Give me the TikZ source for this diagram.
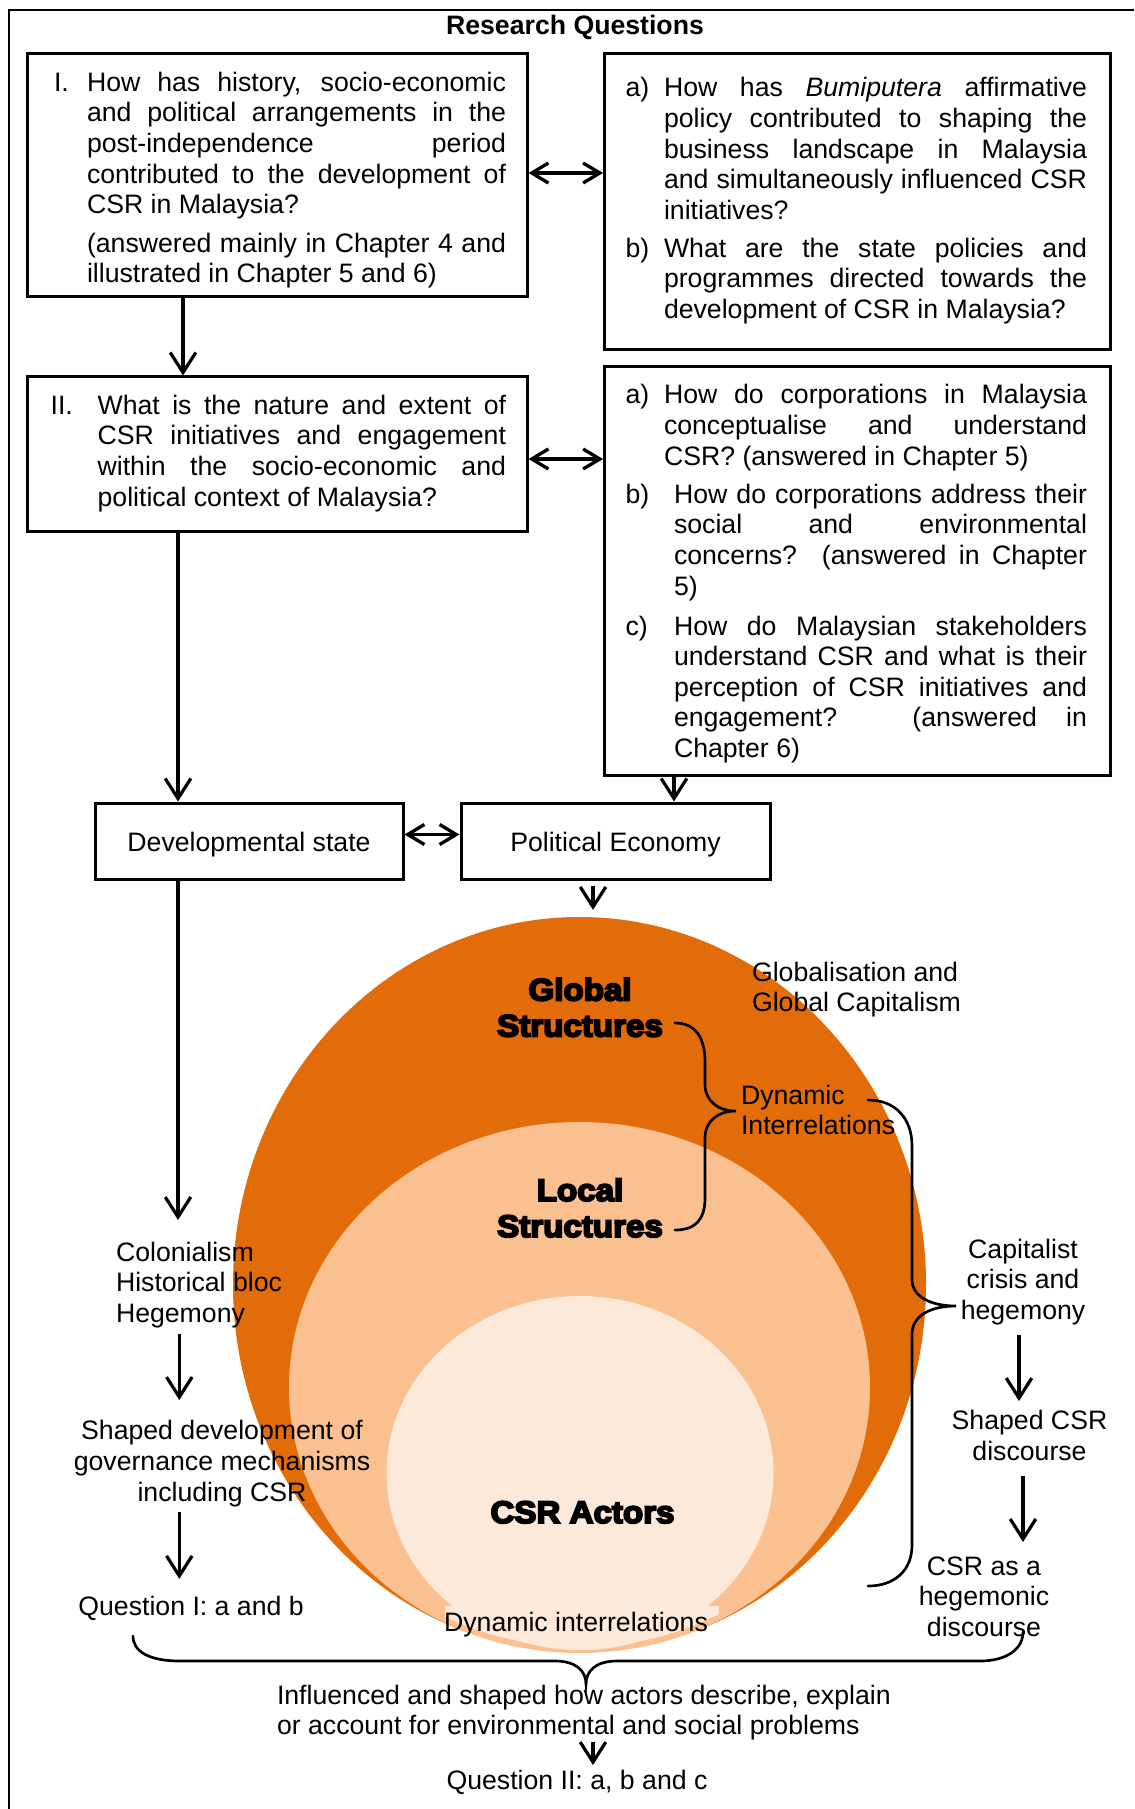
\documentclass[tikz,border=0pt]{standalone}
\usepackage{fontspec}
\setmainfont{Liberation Sans}
\newfontfamily\heavyfont[FakeBold=6,FakeStretch=1.065]{Liberation Sans Bold}
\usetikzlibrary{arrows.meta,shapes.geometric}
\definecolor{dorange}{RGB}{227,108,10}
\definecolor{morange}{RGB}{250,192,144}
\definecolor{lorange}{RGB}{253,233,217}
\newcommand{\firstln}{\rule{0pt}{10pt}}
\newcommand{\firsthv}{\rule{0pt}{12pt}}
\newcommand{\lastln}{\rule[-3pt]{0pt}{3pt}}
\newcommand{\jA}[1]{\makebox[188.55pt][s]{#1}}
\newcommand{\jB}[1]{\makebox[190.35pt][s]{#1}}
\newcommand{\jC}[1]{\makebox[183.8pt][s]{#1}}
\newcommand{\jD}[1]{\makebox[185.85pt][s]{#1}}
\begin{document}
\begin{tikzpicture}[x=0.45pt,y=-0.45pt,
  box/.style={draw, line width=1.35pt, rectangle, inner sep=0pt, font=\fontsize{12pt}{13.77pt}\selectfont, text height=11pt, text depth=1.6pt},
  txt/.style={inner sep=0pt, outer sep=0pt, align=left, font=\fontsize{12pt}{13.77pt}\selectfont},
  ctxt/.style={txt, align=center},
  heavy/.style={inner sep=0pt, outer sep=0pt, align=center, font=\heavyfont\fontsize{14pt}{16.2pt}\selectfont},
  arr/.style={line width=1.45pt, -{Straight Barb[length=9pt,width=11.5pt]}},
  darr/.style={line width=1.5pt, {Straight Barb[length=7.5pt,width=9pt]}-{Straight Barb[length=7.5pt,width=9pt]}},
  brace/.style={line width=1.2pt, line cap=round}]
\useasboundingbox (0,0) rectangle (1134,1809);
% frame
\draw[line width=0.9pt] (9.3,1809) -- (9.3,10.5) -- (1134,10.5);
\node[txt, anchor=base, font=\fontsize{12pt}{13.77pt}\selectfont\bfseries] (title) at (575,34.8) {Research Questions};

% ---------- boxes
\node[box, minimum width=224.55pt, minimum height=109.35pt] (b1) at (277.5,175.5) {};
\node[box, minimum width=227.475pt, minimum height=132.75pt] (r1) at (857.25,201.5) {};
\node[box, minimum width=224.55pt, minimum height=69.3pt] (b2) at (277.5,454) {};
\node[box, minimum width=227.475pt, minimum height=183.6pt] (r2) at (857.25,571) {};
\node[box, minimum width=138.6pt, minimum height=34.2pt] (dev) at (249,841) {Developmental state};
\node[box, minimum width=139.05pt, minimum height=34.2pt] (pe) at (615.5,841) {Political Economy};

% ---------- box texts
\node[txt, anchor=base west] (l1) at (54,91.3) {I.};
\node[txt, anchor=north west] (q1text) at (87,91.3-22.22) {\firstln\jA{How has history, socio-economic}\\
\jA{and political arrangements in the}\\
\jA{post-independence period}\\
\jA{contributed to the development of}\\
CSR in Malaysia?\\[3.6pt]
\jA{(answered mainly in Chapter 4 and}\\
illustrated in Chapter 5 and 6)\lastln};

\node[txt, anchor=base west] (la1) at (625.6,97) {a)};
\node[txt, anchor=base west] (lb1) at (625.6,257.3) {b)};
\node[txt, anchor=north west] (r1text) at (664,97-22.22) {\firstln\jB{How has \textit{Bumiputera} affirmative}\\
\jB{policy contributed to shaping the}\\
\jB{business landscape in Malaysia}\\
\jB{and simultaneously influenced CSR}\\
initiatives?\\[3.3pt]
\jB{What are the state policies and}\\
\jB{programmes directed towards the}\\
development of CSR in Malaysia?\lastln};

\node[txt, anchor=base west] (l2) at (50.6,414.3) {II.};
\node[txt, anchor=north west] (q2text) at (97.6,414.3-22.22) {\firstln\jC{What is the nature and extent of}\\
\jC{CSR initiatives and engagement}\\
\jC{within the socio-economic and}\\
political context of Malaysia?\lastln};

\node[txt, anchor=base west] (la2) at (625.6,403.8) {a)};
\node[txt, anchor=north west] (r2a) at (664,403.8-22.22) {\firstln\jB{How do corporations in Malaysia}\\
\jB{conceptualise and understand}\\
CSR? (answered in Chapter 5)\lastln};
\node[txt, anchor=base west] (lb2) at (625.6,503.3) {b)};
\node[txt, anchor=north west] (r2b) at (674,503.3-22.22) {\firstln\jD{How do corporations address their}\\
\jD{social and environmental}\\
\jD{concerns? (answered in Chapter}\\
5)\lastln};
\node[txt, anchor=base west] (lc2) at (625.6,635) {c)};
\node[txt, anchor=north west] (r2c) at (674,635-22.22) {\firstln\jD{How do Malaysian stakeholders}\\
\jD{understand CSR and what is their}\\
\jD{perception of CSR initiatives and}\\
\jD{engagement? (answered in}\\
Chapter 6)\lastln};

% ---------- ellipses
\node[ellipse, fill=dorange, draw=none, inner sep=0pt, outer sep=0pt, minimum width=311.85pt, minimum height=330.75pt] (glob) at (579.5,1284.5) {};
\fill[morange] (579.5,1387.5) ellipse [x radius=290.5, y radius=265.5];
\fill[lorange] (580,1473) ellipse [x radius=193.5, y radius=177];
\begin{scope}
  \clip (579.5,1386) ellipse [x radius=287, y radius=261];
  \fill[lorange] (445,1606) rectangle (719,1700);
\end{scope}

% ---------- circle labels
\node[heavy, anchor=north] (globs) at (580,1000.5-26.67) {\firsthv Global\\Structures};
\node[heavy, anchor=north] (locs) at (580,1201-26.67) {\firsthv Local\\Structures};
\node[heavy, anchor=base] (actors) at (582.5,1523) {CSR Actors};
\node[txt, anchor=base] (dynB) at (576,1631.3) {Dynamic interrelations};
\node[txt, anchor=north west] (globcap) at (752,981.3-22.22) {\firstln Globalisation and\\Global Capitalism\lastln};
\node[txt, anchor=north west] (dynI) at (741,1104-22.22) {\firstln Dynamic\\Interrelations\lastln};

% ---------- side texts
\node[txt, anchor=north west] (colon) at (116,1261.3-22.22) {\firstln Colonialism\\Historical bloc\\Hegemony\lastln};
\node[ctxt, anchor=north] (shdev) at (222,1439.8-22.22) {\firstln Shaped development of\\governance mechanisms\\including CSR\lastln};
\node[txt, anchor=base west] (qI) at (78.4,1615.3) {\firstln Question I: a and b\lastln};
\node[ctxt, anchor=north] (capit) at (1023,1258.3-22.22) {\firstln Capitalist\\crisis and\\hegemony\lastln};
\node[ctxt, anchor=north] (shcsr) at (1029.5,1429.7-22.22) {\firstln Shaped CSR\\discourse\lastln};
\node[ctxt, anchor=north] (hegd) at (984,1575.3-22.22) {\firstln CSR as a\\hegemonic\\discourse\lastln};
\node[txt, anchor=north west] (infl) at (277,1704.3-22.22) {\firstln Influenced and shaped how actors describe, explain\\or account for environmental and social problems\lastln};
\node[txt, anchor=base] (qII) at (577,1789.3) {\firstln Question II: a, b and c\lastln};

% ---------- helper coordinates
\coordinate (xA) at (183,0);
\coordinate (xB) at (178,0);
\coordinate (xC) at (674,0);
\coordinate (xE) at (179.3,0);
\coordinate (xF) at (593,0);
\coordinate (xG) at (1019,0);
\coordinate (xH) at (1023,0);
\coordinate (yA) at (0,173);
\coordinate (yB) at (0,459);
\coordinate (yC) at (0,834.5);

% ---------- connectors
\draw[darr] (b1.east |- yA) -- (r1.west |- yA);
\draw[darr] (b2.east |- yB) -- (r2.west |- yB);
\draw[darr] (dev.east |- yC) -- (pe.west |- yC);
\draw[arr] (b1.south -| xA) -- (b2.north -| xA);
\draw[arr] (b2.south -| xB) -- (dev.north -| xB);
\draw[arr] (r2.south -| xC) -- (pe.north -| xC);
\draw[arr, shorten <=2.4pt, shorten >=3.2pt] (pe.south -| xF) -- (glob.north -| xF);
\draw[arr, shorten >=8.6pt] (dev.south -| xB) -- (colon.north -| xB);
\draw[arr, shorten <=2.1pt, shorten >=7.9pt] (colon.south -| xE) -- (shdev.north -| xE);
\draw[arr, shorten <=1.9pt, shorten >=6.4pt] (shdev.south -| xE) -- (qI.north -| xE);
\draw[arr, shorten <=3.9pt, shorten >=2.9pt] (capit.south -| xG) -- (shcsr.north -| xG);
\draw[arr, shorten <=4pt, shorten >=5pt] (shcsr.south -| xH) -- (hegd.north -| xH);
\draw[arr, shorten <=0pt, shorten >=0.9pt] (infl.south -| xF) -- (qII.north -| xF);

% ---------- braces
\draw[brace] (675,1023) .. controls (695,1023) and (705,1037) .. (705,1062) -- (705,1084)
  .. controls (705,1101) and (718,1111) .. (736,1111)
  .. controls (718,1111) and (705,1121) .. (705,1138) -- (705,1198)
  .. controls (705,1220) and (695,1230) .. (675,1230);
\draw[brace] (868,1100) .. controls (895,1100) and (912,1118) .. (912,1146) -- (912,1280)
  .. controls (912,1296) and (930,1306) .. (956,1306)
  .. controls (930,1306) and (912,1316) .. (912,1334) -- (912,1545)
  .. controls (912,1570) and (895,1586) .. (868,1586);
\draw[brace] (133,1636) .. controls (133,1652) and (150,1661) .. (180,1661) -- (555,1661)
  .. controls (575,1661) and (586,1670) .. (586,1684)
  .. controls (586,1670) and (597,1661) .. (617,1661) -- (980,1661)
  .. controls (1005,1661) and (1023,1650) .. (1023,1632);
\end{tikzpicture}
\end{document}
